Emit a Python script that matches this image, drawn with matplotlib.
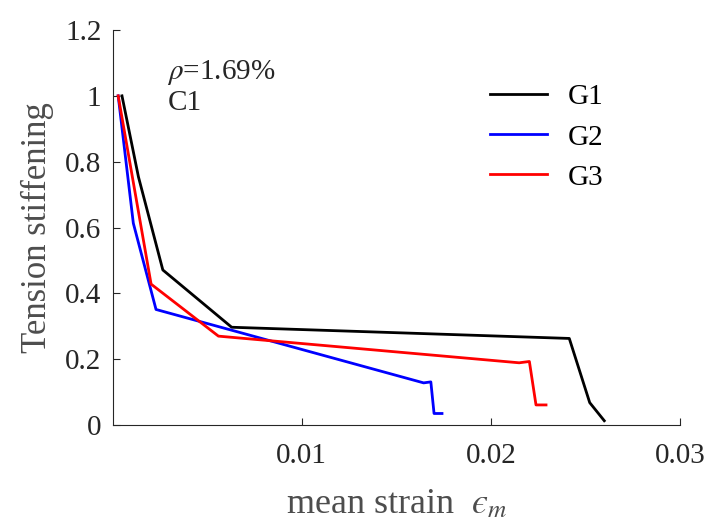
import numpy as np
import matplotlib
matplotlib.use("Agg")
import matplotlib.pyplot as plt

plt.rcParams["font.family"] = ["Liberation Serif", "DejaVu Serif"]
plt.rcParams["mathtext.fontset"] = "stix"

# 读图得到的数据
g1_x = [0.0005, 0.00137, 0.00266, 0.0063, 0.02415, 0.02523, 0.0260]
g1_y = [1.0, 0.754, 0.471, 0.297, 0.263, 0.068, 0.013]

g2_x = [0.0003, 0.0011, 0.0023, 0.01645, 0.01683, 0.0170, 0.01742]
g2_y = [1.0, 0.613, 0.351, 0.128, 0.131, 0.035, 0.035]

g3_x = [0.0003, 0.00204, 0.0056, 0.0215, 0.02204, 0.02239, 0.02292]
g3_y = [1.0, 0.428, 0.270, 0.189, 0.193, 0.061, 0.061]

x_ticks = [0.01, 0.02, 0.03]
x_tick_labels = ["0.01", "0.02", "0.03"]
y_ticks = [0, 0.2, 0.4, 0.6, 0.8, 1.0, 1.2]
y_tick_labels = ["0", "0.2", "0.4", "0.6", "0.8", "1", "1.2"]

fig = plt.figure(figsize=(7.09, 5.31), dpi=100)
ax = fig.add_axes([0.1587, 0.1996, 0.8003, 0.7439])

ax.plot(g1_x, g1_y, color="black", lw=2.0, label="G1")
ax.plot(g2_x, g2_y, color="#0000ff", lw=2.0, label="G2")
ax.plot(g3_x, g3_y, color="#ff0000", lw=2.0, label="G3")

ax.set_xlim(0, 0.03)
ax.set_ylim(0, 1.2)
ax.set_xticks(x_ticks)
ax.set_xticklabels(x_tick_labels)
ax.set_yticks(y_ticks)
ax.set_yticklabels(y_tick_labels)

ax.spines["top"].set_visible(False)
ax.spines["right"].set_visible(False)
for s in ("left", "bottom"):
    ax.spines[s].set_linewidth(0.8)
    ax.spines[s].set_color("#262626")
ax.tick_params(axis="both", direction="in", length=5, width=0.8,
               colors="#262626", labelsize=21)
ax.tick_params(axis="x", pad=13)
ax.tick_params(axis="y", pad=8)

ax.set_xlabel("mean strain  $\u03f5_{m}$", fontsize=26, color="#4d4d4d", labelpad=14)
ax.set_ylabel("Tension stiffening", fontsize=25, color="#4d4d4d", labelpad=8)

ax.text(0.0029, 1.072, r"$\rho$=1.69%", fontsize=21, color="#262626", va="center")
ax.text(0.0029, 0.978, "C1", fontsize=21, color="#262626", va="center")

ax.legend(loc="upper left", bbox_to_anchor=(0.63, 0.915), frameon=False,
          fontsize=21, handlelength=1.95, handletextpad=0.7, labelspacing=0.47,
          borderpad=0.2)

fig.savefig("out.png", dpi=100)
